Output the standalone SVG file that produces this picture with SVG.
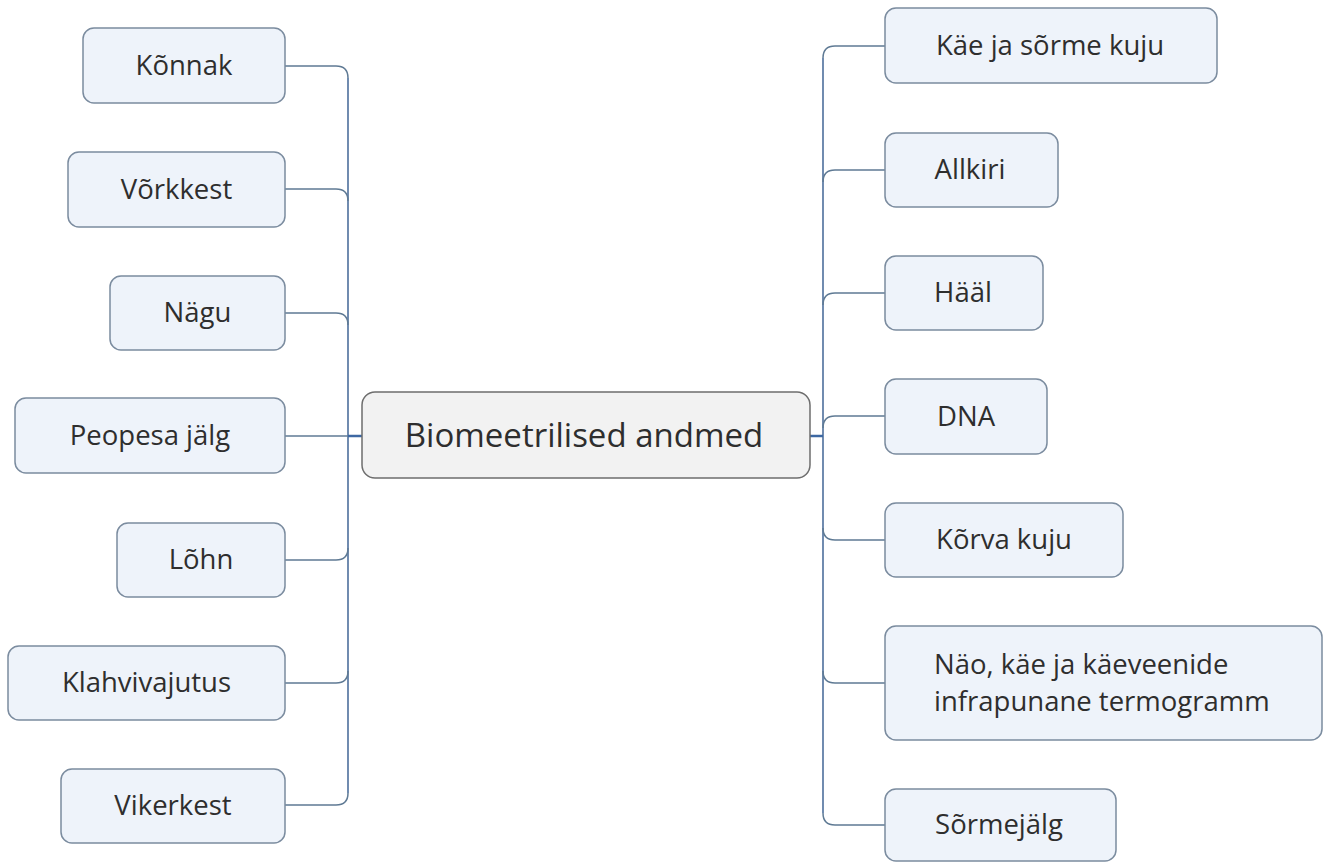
<svg xmlns="http://www.w3.org/2000/svg" width="1333" height="862" viewBox="0 0 1333 862">
<style>
.leaf rect{fill:#eef3fa;stroke:#7b8c9f;stroke-width:1.5}
.leaf text{font-family:"Open Sans","Noto Sans",sans-serif;font-size:27.5px;fill:#2e2e2e;text-anchor:middle}
.center rect{fill:#f2f2f2;stroke:#6e6e6e;stroke-width:1.5}
.center text{font-family:"Open Sans","Noto Sans",sans-serif;font-size:33px;fill:#2e2e2e;text-anchor:middle}
.conn path{fill:none;stroke:#5f7a94;stroke-width:1.5}
.conn .trunk{stroke:#4d6f9c;stroke-width:1.6}
.conn .main{stroke:#3d68a3;stroke-width:2.5}
</style>
<rect width="1333" height="862" fill="#ffffff"/>
<g id="connectors" class="conn">
<path class="trunk" d="M348,78 V793"/>
<path class="trunk" d="M823,58 V813"/>
<path class="main" d="M348,436 H362"/>
<path class="main" d="M810,436 H823"/>
<path d="M285,66 H336 Q348,66 348,78"/>
<path d="M285,189 H336 Q348,189 348,201"/>
<path d="M285,313 H336 Q348,313 348,325"/>
<path d="M285,436 H348"/>
<path d="M285,560 H336 Q348,560 348,548"/>
<path d="M285,683 H336 Q348,683 348,671"/>
<path d="M285,805 H336 Q348,805 348,793"/>
<path d="M885,46 H835 Q823,46 823,58"/>
<path d="M885,170 H835 Q823,170 823,182"/>
<path d="M885,293 H835 Q823,293 823,305"/>
<path d="M885,416 H835 Q823,416 823,428"/>
<path d="M885,540 H835 Q823,540 823,528"/>
<path d="M885,683 H835 Q823,683 823,671"/>
<path d="M885,825 H835 Q823,825 823,813"/>
</g>
<g id="center" class="center">
<rect x="362" y="392" width="448" height="86" rx="13"/>
<text x="584" y="447">Biomeetrilised andmed</text>
</g>
<g id="konnak" class="leaf"><rect x="83" y="28" width="202" height="75" rx="11"/><text x="184" y="75">Kõnnak</text></g>
<g id="vorkkest" class="leaf"><rect x="68" y="152" width="217" height="75" rx="11"/><text x="176.5" y="199">Võrkkest</text></g>
<g id="nagu" class="leaf"><rect x="110" y="276" width="175" height="74" rx="11"/><text x="197.5" y="322">Nägu</text></g>
<g id="peopesa" class="leaf"><rect x="15" y="398" width="270" height="75" rx="11"/><text x="150" y="445">Peopesa jälg</text></g>
<g id="lohn" class="leaf"><rect x="117" y="523" width="168" height="74" rx="11"/><text x="201" y="569">Lõhn</text></g>
<g id="klahvivajutus" class="leaf"><rect x="8" y="646" width="277" height="74" rx="11"/><text x="146.5" y="692">Klahvivajutus</text></g>
<g id="vikerkest" class="leaf"><rect x="61" y="769" width="224" height="74" rx="11"/><text x="173" y="815">Vikerkest</text></g>
<g id="kae" class="leaf"><rect x="885" y="8" width="332" height="75" rx="11"/><text x="1050" y="55">Käe ja sõrme kuju</text></g>
<g id="allkiri" class="leaf"><rect x="885" y="133" width="173" height="74" rx="11"/><text x="970" y="179">Allkiri</text></g>
<g id="haal" class="leaf"><rect x="885" y="256" width="158" height="74" rx="11"/><text x="963" y="302">Hääl</text></g>
<g id="dna" class="leaf"><rect x="885" y="379" width="162" height="75" rx="11"/><text x="966" y="426">DNA</text></g>
<g id="korva" class="leaf"><rect x="885" y="503" width="238" height="74" rx="11"/><text x="1004" y="549">Kõrva kuju</text></g>
<g id="termogramm" class="leaf"><rect x="885" y="626" width="437" height="114" rx="11"/><text x="934" y="674" style="text-anchor:start">Näo, käe ja käeveenide</text><text x="934" y="711" style="text-anchor:start">infrapunane termogramm</text></g>
<g id="sormejalg" class="leaf"><rect x="885" y="789" width="231" height="72" rx="11"/><text x="999" y="834">Sõrmejälg</text></g>
</svg>
